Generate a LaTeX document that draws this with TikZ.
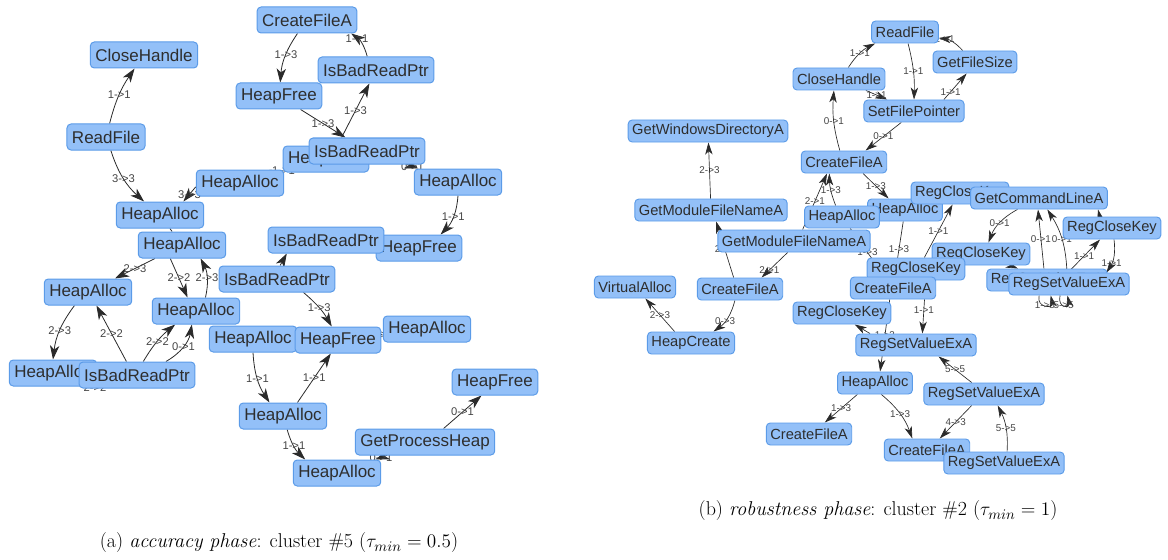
\documentclass[tikz,border=0pt]{standalone}
\usepackage{fontspec}
\newfontfamily\arialf{Liberation Sans}
\usetikzlibrary{arrows.meta}
\definecolor{nf}{HTML}{93C0F8}
\definecolor{nb}{HTML}{5B9BE8}
\definecolor{nt}{HTML}{2E2E2E}
\definecolor{ec}{HTML}{2A2A2A}
\definecolor{lc}{HTML}{444444}
\pgfdeclarelayer{edges}
\pgfsetlayers{edges,main}
\begin{document}
\begin{tikzpicture}[x=0.75pt,y=-0.75pt,
  nL/.style={draw=nb, fill=nf, rounded corners=3pt, line width=0.75pt, text=nt,
    font=\arialf\fontsize{12.75}{14}\selectfont, minimum height=19.5pt, inner xsep=3.75pt, inner ysep=0pt},
  nR/.style={draw=nb, fill=nf, rounded corners=3pt, line width=0.7pt, text=nt,
    font=\arialf\fontsize{11}{12}\selectfont, minimum height=16.5pt, inner xsep=3pt, inner ysep=0pt},
  eL/.style={draw=ec, line width=0.6pt, -{Stealth[length=10.5pt,width=7pt,inset=3pt]}},
  eLp/.style={draw=ec, line width=0.6pt},
  eR/.style={draw=ec, line width=0.5pt, -{Stealth[length=9pt,width=5.5pt,inset=2.5pt]}},
  lL/.style={font=\arialf\fontsize{8.4}{9}\selectfont, text=lc, inner sep=0pt},
  lR/.style={font=\arialf\fontsize{7.4}{8}\selectfont, text=lc, inner sep=0pt},
  capt/.style={font=\fontsize{15}{17}\selectfont, inner sep=0pt}
]
\useasboundingbox (0,0) rectangle (1168,560);

% ---------------- left graph nodes ----------------
\node[nL] (La1) at (307,20) {CreateFileA};
\node[nL] (La2) at (144,55) {CloseHandle};
\node[nL] (La4) at (279,96) {HeapFree};
\node[nL] (La3) at (376,70) {IsBadReadPtr};
\node[nL] (La5) at (106,137) {ReadFile};
\node[nL] (La6) at (326,159) {HeapFree};
\node[nL] (La7) at (367,151) {IsBadReadPtr};
\node[nL] (La8) at (240,183) {HeapAlloc};
\node[nL] (La9) at (458,182) {HeapAlloc};
\node[nL] (La10) at (160,215) {HeapAlloc};
\node[nL] (La11) at (182,245) {HeapAlloc};
\node[nL] (La12) at (419,248) {HeapFree};
\node[nL] (La13) at (326,240) {IsBadReadPtr};
\node[nL] (La14) at (277,279) {IsBadReadPtr};
\node[nL] (La15) at (88,292) {HeapAlloc};
\node[nL] (La16) at (196,311) {HeapAlloc};
\node[nL] (La17) at (253,339) {HeapAlloc};
\node[nL] (La18) at (338,340) {HeapFree};
\node[nL] (La19) at (427,329) {HeapAlloc};
\node[nL] (La20) at (53,373) {HeapAlloc};
\node[nL] (La21) at (137,375) {IsBadReadPtr};
\node[nL] (La22) at (495,382) {HeapFree};
\node[nL] (La23) at (283,416) {HeapAlloc};
\node[nL] (La24) at (425,442) {GetProcessHeap};
\node[nL] (La25) at (337,473) {HeapAlloc};

% ---------------- right graph nodes ----------------
\node[nR] (Rb1) at (905,32) {ReadFile};
\node[nR] (Rb2) at (975,62) {GetFileSize};
\node[nR] (Rb3) at (839,79) {CloseHandle};
\node[nR] (Rb4) at (914,111) {SetFilePointer};
\node[nR] (Rb5) at (708,131) {GetWindowsDirectoryA};
\node[nR] (Rb6) at (844,162) {CreateFileA};
\node[nR] (Rb7) at (711,210) {GetModuleFileNameA};
\node[nR] (Rb8) at (905,210) {HeapAlloc};
\node[nR] (Rb9) at (842,217) {HeapAlloc};
\node[nR] (Rb10) at (960,193) {RegCloseKey};
\node[nR] (Rb11) at (1039,198) {GetCommandLineA};
\node[nR] (Rb12) at (794,241) {GetModuleFileNameA};
\node[nR] (Rb13) at (1112,228) {RegCloseKey};
\node[nR] (Rb14) at (981,254) {RegCloseKey};
\node[nR] (Rb15) at (916,269) {RegCloseKey};
\node[nR] (Rb16) at (1047,280) {RegSetValueExA};
\node[nR] (Rb17) at (1069,284) {RegSetValueExA};
\node[nR] (Rb18) at (740,289) {CreateFileA};
\node[nR] (Rb19) at (635,287) {VirtualAlloc};
\node[nR] (Rb20) at (893,288) {CreateFileA};
\node[nR] (Rb21) at (842,313) {RegCloseKey};
\node[nR] (Rb22) at (691,343) {HeapCreate};
\node[nR] (Rb23) at (916,345) {RegSetValueExA};
\node[nR] (Rb24) at (875,383) {HeapAlloc};
\node[nR] (Rb25) at (984,394) {RegSetValueExA};
\node[nR] (Rb26) at (809,434) {CreateFileA};
\node[nR] (Rb27) at (927,450) {CreateFileA};
\node[nR] (Rb28) at (1004,463) {RegSetValueExA};

% ---------------- captions ----------------
\node[capt] (capA) at (279,543) {(a) \textit{accuracy phase}: cluster \#5 ($\tau_{min} = 0.5$)};
\node[capt] (capB) at (878,511) {(b) \textit{robustness phase}: cluster \#2 ($\tau_{min} = 1$)};

\begin{pgfonlayer}{edges}
% left edges
\draw[eL] (La1) to[bend right=15] node[lL,pos=0.45]{1->3} (La4);
\draw[eL] (La3.123) to[bend right=20] node[lL,pos=0.75]{1->1} (La1.-17);
\draw[eL] (La4) -- node[lL]{1->3} (La7);
\draw[eL] (La7.152) -- node[lL]{1->3} (La3.244);
\draw[eL] (La5) to[bend left=10] node[lL]{1->1} (La2);
\draw[eL] (La5) to[bend right=15] node[lL]{3->3} (La10);
\draw[eL] (La8.185) -- node[lL]{3->3} (La10.30);
\draw[eL] (La6) -- node[lL]{1->1} (La8);
\draw[eL] (La7) -- node[lL]{0->1} (La9);
\draw[eL] (La9.south) to[bend left=20] node[lL]{1->1} (La12.32);
\draw[eLp] (La10) -- (La11);
\draw[eL] (La11) -- node[lL]{2->3} (La15);
\draw[eL] (La11.229) -- node[lL]{2->2} (La16.122);
\draw[eL] (La16.55) to[bend right=20] node[lL]{2->3} (La11.-36);
\draw[eL] (La14.77) -- (La13.199);
\draw[eL] (La14.-27) to[bend left=10] node[lL]{1->3} (La18.115);
\draw[eL] (La15.225) to[bend right=15] node[lL]{2->3} (La20.north);
\draw[eL] (La21.128) -- node[lL]{2->2} (La15.-58);
\draw[eL] (La21.65) to[bend left=10] node[lL]{2->2} (La16.213);
\draw[eL] (La21.25) to[bend right=25] node[lL]{0->1} (La16.253);
\draw[eL] (La21.center) -- node[lL,yshift=-10.5pt]{2->2} (La20.center);
\draw[eL] (La17.south) to[bend right=15] node[lL]{1->1} (La23.135);
\draw[eL] (La23.43) -- node[lL]{1->1} (La18.242);
\draw[eL] (La18) -- node[lL]{1->1} (La19);
\draw[eL] (La23.-73) to[bend right=15] node[lL]{1->1} (La25.157);
\draw[eL] (La24.36) -- node[lL]{0->1} (La22.225);
\draw[eL] (La24) -- node[lL]{0->1} (La25);

% right edges
\draw[eR] (Rb3.51) to[bend left=15] node[lR]{1->1} (Rb1.201);
\draw[eR] (Rb2.137) to[bend right=20] node[lR,pos=0.8]{1->1} (Rb1.-10);
\draw[eR] (Rb1.-75) to[bend left=8] node[lR]{1->1} (Rb4.north);
\draw[eR] (Rb4.21) -- node[lR,pos=0.3]{1->1} (Rb2.234);
\draw[eR] (Rb3) -- node[lR]{1->1} (Rb4);
\draw[eR] (Rb6.110) to[bend left=10] node[lR]{0->1} (Rb3.246);
\draw[eR] (Rb4.222) -- node[lR]{0->1} (Rb6.28);
\draw[eR] (Rb7) -- node[lR]{2->3} (Rb5);
\draw[eR] (Rb18.119) -- node[lR]{2->1} (Rb7.-66);
\draw[eR] (Rb12.241) -- node[lR,pos=0.7]{2->1} (Rb18.28);
\draw[eR] (Rb12.53) -- node[lR]{2->1} (Rb6.214);
\draw[eR] (Rb9.119) to[bend left=10] node[lR]{1->3} (Rb6.218);
\draw[eR] (Rb6.-31) -- node[lR]{1->3} (Rb8.145);
\draw[eR] (Rb8) -- node[lR]{1->3} (Rb20);
\draw[eR] (Rb9) -- node[lR]{1->3} (Rb20);
\draw[eR] (Rb15.54) -- node[lR]{1->1} (Rb10.237);
\draw[eR] (Rb11.208) to[bend right=20] node[lR]{0->1} (Rb14.57);
\draw[eR] (Rb16.105) -- node[lR]{0->1} (Rb11.265);
\draw[eR] (Rb17.100) to[bend right=15] node[lR]{0->1} (Rb11.-54);
\draw[eR] (Rb17.95) -- node[lR]{1->1} (Rb13.224);
\draw[eR] (Rb13.-80) to[bend left=20] node[lR,pos=0.7]{1->1} (Rb17.17);
\draw[eR] (Rb13.137) -- (Rb11.-11);
\draw[eR] (Rb14) -- (Rb16);
\draw[eR] (Rb17.201) .. controls +(-3,13) and +(3,13) .. node[lR]{1->5} (Rb17.212);
\draw[eR] (Rb17.232) .. controls +(-3,13) and +(3,13) .. node[lR]{5->5} (Rb17.262);
\draw[eR] (Rb20.-20) -- node[lR,pos=0.3]{1->1} (Rb23.61);
\draw[eR] (Rb20.254) -- node[lR]{1->3} (Rb24.66);
\draw[eR] (Rb23.166) -- (Rb21.-42);
\draw[eR] (Rb24.213) -- node[lR]{1->3} (Rb26.36);
\draw[eR] (Rb24.-61) to[bend left=15] node[lR]{1->3} (Rb27.142);
\draw[eR] (Rb25.137) -- node[lR]{5->5} (Rb23.-27);
\draw[eR] (Rb25.223) -- node[lR]{4->3} (Rb27.42);
\draw[eR] (Rb28.75) to[bend right=15] node[lR]{5->5} (Rb25.-40);
\draw[eR] (Rb22.145) -- node[lR]{2->3} (Rb19.-48);
\draw[eR] (Rb18.246) to[bend left=20] node[lR,pos=0.6]{0->3} (Rb22.27);
\end{pgfonlayer}
\end{tikzpicture}
\end{document}
